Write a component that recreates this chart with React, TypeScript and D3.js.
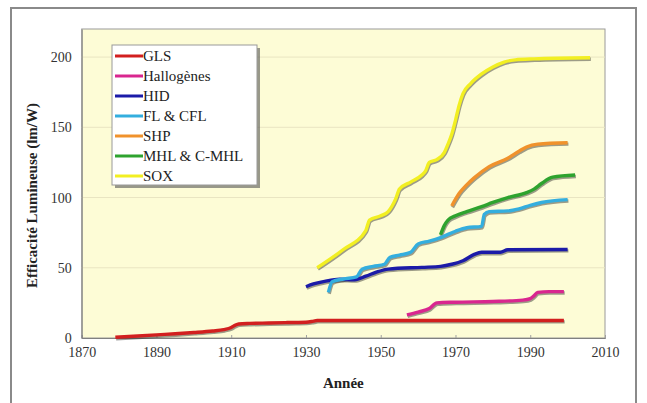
import { useEffect, useRef } from "react";
import * as d3 from "d3";

type Pt = [number, number];

// [year, lm/W]
const gls: Pt[] = [
  [1879, 0.5], [1885, 1.4], [1890, 2.2], [1895, 3], [1900, 3.9], [1905, 5], [1908, 6],
  [1910, 7.5], [1911, 9], [1912, 10], [1915, 10.4], [1920, 10.7], [1925, 11], [1930, 11.2],
  [1932, 12], [1933, 12.5], [1950, 12.5], [1970, 12.5], [1999, 12.5],
];
const halogenes: Pt[] = [
  [1957, 16.5], [1960, 18.5], [1963, 21], [1965, 25], [1970, 25.5], [1980, 26],
  [1988, 27], [1990, 28], [1991, 30], [1992, 32.5], [1995, 33], [1999, 33],
];
const hid: Pt[] = [
  [1930, 36.5], [1932, 38.5], [1935, 40.3], [1939, 41.8], [1943, 41.5], [1946, 44],
  [1949, 47], [1952, 49], [1961, 50.3], [1966, 51], [1969, 52.5], [1972, 55], [1975, 59.5],
  [1977, 61], [1982, 61], [1984, 62.8], [2000, 63],
];
const fl: Pt[] = [
  [1936, 32.5], [1937, 40], [1940, 42], [1943.5, 43.5], [1945, 49], [1948, 51], [1951, 52.5],
  [1952.5, 57.5], [1955, 59], [1958, 61], [1960, 67], [1963, 69], [1966, 71.5], [1970, 76],
  [1973, 78.5], [1977, 79.5], [1977.7, 88], [1979, 90], [1984, 90.5], [1987, 92],
  [1990, 94.5], [1993, 96.5], [2000, 98.5],
];
const shp: Pt[] = [
  [1969, 94], [1971, 103], [1973, 109], [1975, 114], [1979, 122], [1984, 128],
  [1987, 133], [1989, 136], [1992, 138], [2000, 139],
];
const mhl: Pt[] = [
  [1966, 73.5], [1967, 80], [1968, 84], [1970, 87], [1973, 90], [1977, 93.5], [1980, 96.5],
  [1984, 100], [1989, 103.5], [1991, 106], [1993, 110], [1996, 114.5], [2002, 116],
];
const sox: Pt[] = [
  [1933, 50], [1940, 63], [1946, 76.5], [1947, 84], [1950, 87], [1952, 90], [1954, 99],
  [1955, 106], [1958, 111], [1961, 116], [1962, 119], [1963, 125], [1965, 127], [1967, 132],
  [1968, 138], [1969, 145], [1970, 155], [1971, 166], [1972, 174], [1974, 181], [1977, 188],
  [1980, 193], [1983, 196.5], [1986, 198], [1991, 198.7], [2006, 199.5],
];

const seriesNames = ["GLS", "Hallogènes", "HID", "FL & CFL", "SHP", "MHL & C-MHL", "SOX"];
const seriesData = [gls, halogenes, hid, fl, shp, mhl, sox];
const seriesColors = ["#d21f1f", "#d9268f", "#1b1ba8", "#34aede", "#f0922c", "#2ea32e", "#f2ef22"];

const yearTicks = [1870, 1890, 1910, 1930, 1950, 1970, 1990, 2010];
const valueTicks = [0, 50, 100, 150, 200];

const FONT = "Liberation Serif, DejaVu Serif, Times New Roman, serif";

export default function App() {
  const svgRef = useRef<SVGSVGElement>(null);

  useEffect(() => {
    const svg = d3.select(svgRef.current);
    svg.selectAll("*").remove();
    const W = 647, H = 403;
    const m = { left: 81.7, right: 42, top: 29, bottom: 65 };

    const x = d3.scaleLinear().domain([1870, 2010]).range([m.left, W - m.right]);
    const y = d3.scaleLinear().domain([0, 220]).range([H - m.bottom, m.top]);

    // outer frame
    svg.append("rect").attr("x", 0).attr("y", 0).attr("width", W).attr("height", H).attr("fill", "#fff");
    svg.append("rect")
      .attr("x", 11).attr("y", 8).attr("width", 625).attr("height", 400)
      .attr("fill", "#fff").attr("stroke", "#8a8a8a").attr("stroke-width", 2);

    // plot area
    svg.append("rect")
      .attr("x", x(1870)).attr("y", y(220))
      .attr("width", x(2010) - x(1870)).attr("height", y(0) - y(220))
      .attr("fill", "#fdfcd6").attr("stroke", "#9a9a9a").attr("stroke-width", 1);

    // grid
    svg.append("g").selectAll("line")
      .data(valueTicks.filter((d) => d > 0))
      .join("line")
      .attr("x1", x(1870)).attr("x2", x(2010))
      .attr("y1", (d) => y(d)).attr("y2", (d) => y(d))
      .attr("stroke", "#e9e5c2").attr("stroke-width", 1);

    // x axis
    const xa = svg.append("g")
      .attr("transform", `translate(0,${y(0)})`)
      .call(d3.axisBottom(x).tickValues(yearTicks).tickSize(-3).tickPadding(9).tickFormat(d3.format("d")));
    xa.attr("font-family", null);
    xa.select(".domain").attr("stroke", "#808080");
    xa.selectAll(".tick line").attr("stroke", "#a0a0a0");
    xa.selectAll(".tick text").style("font-family", FONT).style("font-size", "14px").attr("fill", "#333");

    // y axis
    const ya = svg.append("g")
      .attr("transform", `translate(${x(1870)},0)`)
      .call(d3.axisLeft(y).tickValues(valueTicks).tickSize(0).tickPadding(10));
    ya.attr("font-family", null);
    ya.select(".domain").attr("stroke", "#808080");
    ya.selectAll(".tick text").style("font-family", FONT).style("font-size", "14px").attr("fill", "#333");

    // axis titles
    svg.append("text")
      .attr("x", (x(1870) + x(2010)) / 2).attr("y", 388)
      .attr("text-anchor", "middle")
      .style("font-family", FONT).style("font-weight", "bold").style("font-size", "15px").attr("fill", "#222")
      .text("Année");
    svg.append("text")
      .attr("transform", `translate(37,${(y(0) + y(220)) / 2 + 12}) rotate(-90)`)
      .attr("text-anchor", "middle")
      .style("font-family", FONT).style("font-weight", "bold").style("font-size", "15px").attr("fill", "#222")
      .text("Efficacité Lumineuse (lm/W)");

    const line = d3.line<Pt>()
      .x((d) => x(d[0]))
      .y((d) => y(d[1]))
      .curve(d3.curveMonotoneX);

    // shadows then lines
    seriesData.forEach((data) => {
      svg.append("path")
        .datum(data)
        .attr("fill", "none")
        .attr("stroke", "rgba(40,40,40,0.45)")
        .attr("stroke-width", 3.4)
        .attr("transform", "translate(0.8,1.4)")
        .attr("d", line);
    });
    seriesData.forEach((data, i) => {
      svg.append("path")
        .datum(data)
        .attr("fill", "none")
        .attr("stroke", seriesColors[i])
        .attr("stroke-width", 3.4)
        .attr("stroke-linejoin", "round")
        .attr("d", line);
    });

    // legend
    const lg = svg.append("g").attr("transform", "translate(112,45)");
    lg.append("rect").attr("x", 3).attr("y", 3).attr("width", 145).attr("height", 140).attr("fill", "#555").attr("opacity", 0.6);
    lg.append("rect").attr("width", 145).attr("height", 140).attr("fill", "#fff").attr("stroke", "#999");
    seriesNames.forEach((name, i) => {
      const yy = 11 + i * 20;
      lg.append("line")
        .attr("x1", 3).attr("x2", 31).attr("y1", yy).attr("y2", yy)
        .attr("stroke", seriesColors[i]).attr("stroke-width", 3);
      lg.append("text")
        .attr("x", 31).attr("y", yy + 5)
        .style("font-family", FONT).style("font-size", "15px").attr("fill", "#222")
        .text(name);
    });
  }, []);

  return (
    <svg
      ref={svgRef}
      width={647}
      height={403}
      style={{ position: "absolute", left: 0, top: 0, display: "block" }}
    />
  );
}
